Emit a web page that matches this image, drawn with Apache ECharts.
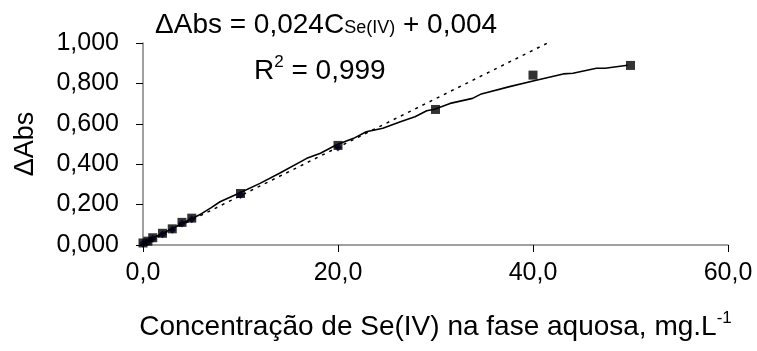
<!DOCTYPE html>
<html>
<head>
<meta charset="utf-8">
<script src="https://cdn.jsdelivr.net/npm/echarts@6/dist/echarts.min.js"></script>
<style>
  html, body { margin: 0; padding: 0; background: #fff; }
  #chart { width: 757px; height: 351px; }
</style>
</head>
<body>
<div id="chart"></div>
<script>
// Measured ΔAbs for each Se(IV) concentration (mg/L)
const concentrations = [0, 0.5, 1, 2, 3, 4, 5, 10, 20, 30, 40, 50];
const deltaAbs = [0.010, 0.019, 0.036, 0.058, 0.080, 0.112, 0.133, 0.255, 0.493, 0.671, 0.841, 0.889];

// Points of the linear range used for the calibration fit
const fitConc = [0, 0.5, 1, 2, 3, 4, 5, 10, 20];
const fitAbs = [0.006, 0.015, 0.031, 0.053, 0.075, 0.106, 0.127, 0.248, 0.483];

// Continuous response curve
const curveConc = [0, 1, 2, 3, 4, 5, 6, 7, 7.9, 9.95, 12, 14, 16.8, 18.2, 19.8, 21.6, 22.9, 24.6, 26.4, 27.9, 29.1, 29.9, 31.5, 33.8, 34.7, 37.6, 40, 43.1, 44.1, 46.5, 47.4, 49.7];
const curveAbs = [0.010, 0.035, 0.058, 0.080, 0.108, 0.130, 0.155, 0.185, 0.214, 0.259, 0.305, 0.355, 0.429, 0.454, 0.495, 0.528, 0.561, 0.578, 0.610, 0.635, 0.665, 0.672, 0.701, 0.726, 0.748, 0.784, 0.812, 0.847, 0.850, 0.875, 0.875, 0.890];

// Calibration line ΔAbs = 0,024·C + 0,004, end points
const lineConc = [0, 41.5];
const lineAbs = [0.004, 1.000];

// Axis ticks
const xTicks = [0, 20, 40, 60];
const yTicks = [0, 0.2, 0.4, 0.6, 0.8, 1.0];

const FONT = 'Liberation Sans, Arial, sans-serif';
const zip = (a, b) => a.map((v, i) => [v, b[i]]);

const chart = echarts.init(document.getElementById('chart'), null, { renderer: 'canvas' });

chart.setOption({
  animation: false,
  backgroundColor: '#ffffff',
  grid: { left: 143, right: 29, top: 43, bottom: 106, containLabel: false },
  xAxis: {
    type: 'value',
    min: xTicks[0],
    max: xTicks[xTicks.length - 1],
    interval: xTicks[1] - xTicks[0],
    axisLine: { onZero: false, lineStyle: { color: '#808080', width: 1.5 } },
    axisTick: { show: true, length: 7, lineStyle: { color: '#000', width: 1 } },
    splitLine: { show: false },
    axisLabel: {
      margin: 16,
      fontFamily: FONT, fontSize: 25, color: '#000',
      formatter: v => v.toFixed(1).replace('.', ',')
    },
    name: 'Concentração de Se(IV) na fase aquosa, mg.L{sup|-1}',
    nameLocation: 'middle',
    nameGap: 65,
    nameTextStyle: {
      fontFamily: FONT, fontSize: 28, color: '#000',
      rich: { sup: { fontFamily: FONT, fontSize: 17, color: '#000', verticalAlign: 'top', padding: [0, 0, 17, 0] } }
    }
  },
  yAxis: {
    type: 'value',
    min: yTicks[0],
    max: yTicks[yTicks.length - 1],
    interval: 0.2,
    axisLine: { show: true, lineStyle: { color: '#808080', width: 1.5 } },
    axisTick: { show: true, length: 7, lineStyle: { color: '#000', width: 1 } },
    splitLine: { show: false },
    axisLabel: {
      margin: 24,
      fontFamily: FONT, fontSize: 25, color: '#000',
      formatter: v => v.toFixed(3).replace('.', ',')
    },
    name: 'ΔAbs',
    nameLocation: 'middle',
    nameRotate: 90,
    nameGap: 104,
    nameTextStyle: { fontFamily: FONT, fontSize: 27, color: '#000' }
  },
  graphic: [
    {
      type: 'text',
      left: 155, top: 11,
      style: {
        text: 'ΔAbs = 0,024C{s|Se(IV)} + 0,004',
        font: '28px ' + FONT,
        fill: '#000',
        rich: { s: { fontFamily: FONT, fontSize: 18, fill: '#000', padding: [7, 0, 0, 0] } }
      }
    },
    {
      type: 'text',
      left: 254, top: 54,
      style: {
        text: 'R{sup|2} = 0,999',
        font: '28px ' + FONT,
        fill: '#000',
        rich: { sup: { fontFamily: FONT, fontSize: 17, fill: '#000', padding: [0, 0, 17, 0] } }
      }
    }
  ],
  series: [
    {
      name: 'calibração',
      type: 'line',
      data: zip(lineConc, lineAbs),
      symbol: 'none',
      lineStyle: { color: '#000', width: 1.5, type: [3, 5] },
      z: 2
    },
    {
      name: 'curva',
      type: 'line',
      data: zip(curveConc, curveAbs),
      symbol: 'none',
      smooth: false,
      lineStyle: { color: '#000', width: 1.6 },
      z: 3
    },
    {
      name: 'faixa linear',
      type: 'scatter',
      data: zip(fitConc, fitAbs),
      symbol: 'diamond',
      symbolSize: 8,
      itemStyle: { color: '#000080' },
      z: 4
    },
    {
      name: 'medidas',
      type: 'scatter',
      data: zip(concentrations, deltaAbs),
      symbol: 'rect',
      symbolSize: 9,
      itemStyle: { color: '#000' },
      z: 5
    }
  ]
});
</script>
</body>
</html>
